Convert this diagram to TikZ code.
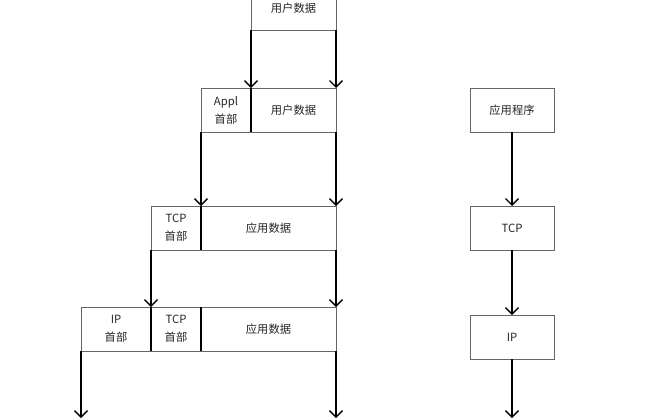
\documentclass[tikz,border=0pt]{standalone}
\usepackage{fontspec}
\setmainfont{Noto Sans CJK SC}
\usetikzlibrary{arrows.meta}

\begin{document}
\begin{tikzpicture}[x=1pt, y=-1pt,
    every node/.style={font=\fontsize{11.3}{18}\selectfont, text=black!85},
    cell/.style={draw=black!60, line width=0.9pt, minimum height=44pt, inner sep=0pt, outer sep=0pt, align=center},
    flow/.style={line width=1.4pt, -{Straight Barb[length=6.5pt, width=13pt, line width=1.4pt]}},
    divider/.style={line width=1.4pt}]
    \useasboundingbox (0,0) rectangle (670,418);
    \clip (0,0) rectangle (670,418);

    % data units, left column
    \node[cell, minimum width=85pt] (user0) at (293.5,8) {用户数据};

    \node[cell, minimum width=50pt] (applhdr) at (226,110) {Appl\\首部};
    \node[cell, minimum width=85pt] (user1) at (293.5,110) {用户数据};

    \node[cell, minimum width=50pt] (tcphdr) at (176,228) {TCP\\首部};
    \node[cell, minimum width=135pt] (appdata) at (268.5,228) {应用数据};

    \node[cell, minimum width=70pt] (iphdr) at (116,329) {IP\\首部};
    \node[cell, minimum width=50pt] (tcphdrb) at (176,329) {TCP\\首部};
    \node[cell, minimum width=135pt] (appdatab) at (268.5,329) {应用数据};

    % layers, right column
    \node[cell, minimum width=84pt] (app) at (512,110) {应用程序};
    \node[cell, minimum width=84pt] (tcp) at (512,228) {TCP};
    \node[cell, minimum width=84pt] (ip) at (512,337) {IP};

    \coordinate (endl) at (81,418);
    \coordinate (endm) at (336,418);
    \coordinate (endr) at (512,418);

    % header dividers
    \draw[divider] (applhdr.north east) -- (applhdr.south east);
    \draw[divider] (tcphdr.north east) -- (tcphdr.south east);
    \draw[divider] (iphdr.north east) -- (iphdr.south east);
    \draw[divider] (tcphdrb.north east) -- (tcphdrb.south east);

    % encapsulation arrows
    \draw[flow] (user0.south west) -- (applhdr.north east);
    \draw[flow] (user0.south east) -- (user1.north east);
    \draw[flow] (applhdr.south west) -- (appdata.north west);
    \draw[flow] (user1.south east) -- (appdata.north east);
    \draw[flow] (tcphdr.south west) -- (iphdr.north east);
    \draw[flow] (appdata.south east) -- (appdatab.north east);
    \draw[flow] (iphdr.south west) -- (endl);
    \draw[flow] (appdatab.south east) -- (endm);

    % layer arrows
    \draw[flow] (app) -- (tcp);
    \draw[flow] (tcp) -- (ip);
    \draw[flow] (ip) -- (endr);
\end{tikzpicture}
\end{document}
